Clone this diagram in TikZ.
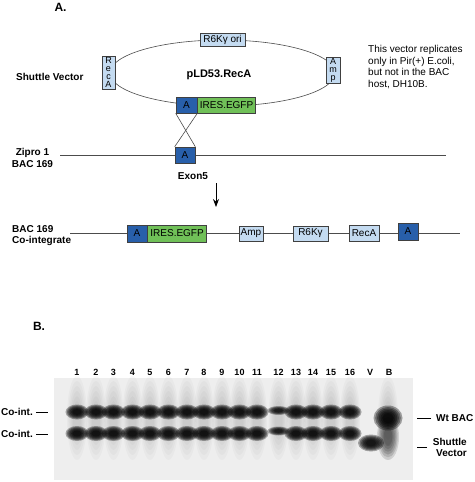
\documentclass[tikz,border=0pt]{standalone}
\usepackage{fontspec}
\setmainfont{Liberation Sans}
\usetikzlibrary{arrows.meta}
\definecolor{ablue}{RGB}{40,95,170}
\definecolor{egfp}{RGB}{112,192,88}
\definecolor{lblue}{RGB}{196,219,241}
\definecolor{gelbg}{RGB}{238,238,238}
\newcommand\gblob[5]{%
  \foreach \s in {1,0.88,0.76,0.64,0.52,0.40}{%
    \fill[black, opacity=#5] (#1,#2) ellipse [x radius={\s*#3*1pt}, y radius={\s*#4*1pt}];
  }}
\tikzset{
  lbl/.style={font=\bfseries\fontsize{10}{12}\selectfont, inner sep=0pt},
  genebox/.style={draw=black!75, line width=0.6pt, inner sep=0pt, font=\fontsize{10}{12}\selectfont},
  abox/.style={genebox, fill=ablue, minimum width=20pt, minimum height=16pt},
  gbox/.style={genebox, fill=egfp, minimum width=58pt, minimum height=16pt},
  lbox/.style={genebox, fill=lblue, minimum height=15pt},
  vbox/.style={genebox, fill=lblue, align=center, font=\fontsize{9}{8}\selectfont},
  dna/.style={draw=black!70, line width=0.6pt},
  tick/.style={draw=black, line width=0.8pt},
  lanenum/.style={font=\bfseries\fontsize{9}{11}\selectfont, inner sep=0pt},
}
\begin{document}
\begin{tikzpicture}[x=1pt,y=-1pt]
\useasboundingbox (0,0) rectangle (474,482);
\fill[white] (0,0) rectangle (474,482);

% ---------- Part A ----------
\node[font=\bfseries\fontsize{12}{14}\selectfont, inner sep=0pt] (labA) at (60.5,7.5) {A.};
\draw[dna] (222.5,73) ellipse [x radius=112.5pt, y radius=33pt];
\node[lbox, minimum width=45pt, minimum height=13pt] (r6k) at (222.5,39.5) {R6Kγ ori};
\node[vbox, minimum width=13pt, minimum height=33pt] (recA) at (108.5,72.5) {R\\e\\c\\A};
\node[vbox, minimum width=14pt, minimum height=26pt] (amp) at (333,70) {A\\m\\p};
\node[abox, minimum width=21pt] (aTop) at (186.5,105) {A};
\node[gbox, anchor=west] (ires) at (aTop.east) {IRES.EGFP};
\node[font=\bfseries\fontsize{11}{13}\selectfont, inner sep=0pt] (plasmid) at (219,75) {pLD53.RecA};
\node[lbl, anchor=west] (shuttle) at (16,77) {Shuttle Vector};
\node[anchor=north west, inner sep=0pt, align=left, font=\fontsize{10}{11.5}\selectfont] (note) at (368,45.5) {This vector replicates\\only in Pir(+) E.coli,\\but not in the BAC\\host, DH10B.};

\coordinate (zL) at (60,155);
\coordinate (zR) at (446,155);
\draw[dna] (zL) -- (zR);
\node[abox] (aLow) at (185,155) {A};
\draw[dna] (aTop.south west) -- (aLow.north east);
\draw[dna] (aTop.south east) -- (aLow.north west);
\node[lbl, align=center, font=\bfseries\fontsize{10}{12.5}\selectfont] (zipro) at (32.5,158) {Zipro 1\\BAC 169};
\node[lbl] (exon) at (193,176) {Exon5};

\coordinate (arT) at (216,183);
\coordinate (arB) at (216,207);
\draw[line width=0.8pt, -{Stealth[length=8pt,width=6pt]}] (arT) -- (arB);

\coordinate (cL) at (70,233);
\coordinate (cR) at (460,233);
\draw[dna] (cL) -- (cR);
\node[abox, minimum height=17pt] (a2) at (137,233.5) {A};
\node[gbox, anchor=west, minimum height=17pt, minimum width=59pt] (ires2) at (a2.east) {IRES.EGFP};
\node[lbox, minimum width=24pt] (amp2) at (251,233.5) {Amp};
\node[lbox, minimum width=35pt] (r6k2) at (310.5,233.5) {R6Kγ};
\node[lbox, minimum width=30pt, minimum height=16pt] (recA2) at (364,233) {RecA};
\node[abox, minimum height=17pt] (a3) at (408,231.5) {A};
\node[lbl, anchor=north west, align=left, font=\bfseries\fontsize{10}{11}\selectfont] (coint) at (12,225) {BAC 169\\Co-integrate};

% ---------- Part B ----------
\node[font=\bfseries\fontsize{12}{14}\selectfont, inner sep=0pt] (labB) at (39,326) {B.};

\fill[gelbg] (54,378) rectangle (413,480);
% faint lane smears
\foreach \x in {77,96,113.5,132.5,150,168.5,187,204,222,239.5,257,278.5,296,313,331,350,388}{
  \gblob{\x}{418}{10}{42}{0.022}
}
% bands
\foreach \x in {77,96,113.5,132.5,150,168.5,187,204,222,239.5,257,296,313,331,350}{
  \gblob{\x}{412}{11.5}{7.5}{0.32}
  \gblob{\x}{433.5}{11.5}{7.5}{0.32}
}
\gblob{278.5}{410.5}{11}{4.5}{0.27}
\gblob{278.5}{431}{11}{4.5}{0.27}
\gblob{371}{443}{13}{8.5}{0.32}
\gblob{388}{437}{11}{23}{0.12}
\gblob{388}{418}{14.5}{12.5}{0.34}

% lane numbers
\foreach \x/\t [count=\i] in {77/1,96/2,113.5/3,132.5/4,150/5,168.5/6,187/7,204/8,222/9,239.5/10,257/11,278.5/12,296/13,313/14,331/15,350/16,370/V,389/B}{
  \node[lanenum] (lane\i) at (\x,372.5) {\t};
}

% side labels
\node[lbl, anchor=east] (ci1) at (33,412) {Co-int.};
\node[lbl, anchor=east] (ci2) at (33,434) {Co-int.};
\draw[tick] ([xshift=3pt]ci1.east) -- ++(12,0) coordinate (ci1e);
\draw[tick] ([xshift=3pt]ci2.east) -- ++(12,0) coordinate (ci2e);
\node[lbl, anchor=west] (wt) at (436,418) {Wt BAC};
\draw[tick] ([xshift=-5pt]wt.west) -- ++(-14,0) coordinate (wte);
\node[lbl, anchor=east, align=right, font=\bfseries\fontsize{10}{11}\selectfont] (sv) at (467,447.5) {Shuttle\\Vector};
\draw[tick, line width=0.6pt] (427,447) -- (417,447);
\end{tikzpicture}
\end{document}
